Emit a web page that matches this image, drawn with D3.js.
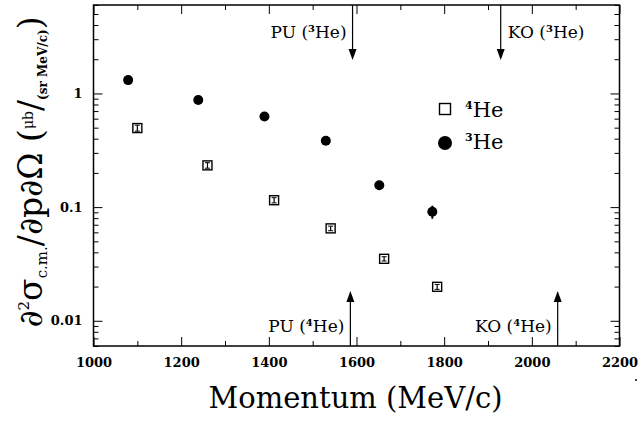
<!DOCTYPE html>
<html>
<head>
<meta charset="utf-8">
<script src="https://cdn.jsdelivr.net/npm/d3@7"></script>
<style>
  body { margin: 0; background: #fff; }
  text { font-family: "DejaVu Serif", "Liberation Serif", serif; fill: #000; }
  .tick text { font-weight: bold; font-size: 13px; }
  .tick line { stroke: #000; stroke-width: 1; }
</style>
</head>
<body>
<div id="chart"></div>
<script>
// 4He (open squares)
var momentum4 = [1100, 1260, 1412, 1541, 1663, 1784];
var xsec4 = [0.496, 0.233, 0.115, 0.065, 0.0351, 0.0199];
var err4 = [0.03, 0.013, 0.006, 0.003, 0.0015, 0.001];

// 3He (filled circles)
var momentum3 = [1079, 1239, 1390, 1530, 1652, 1773];
var xsec3 = [1.31, 0.875, 0.626, 0.384, 0.156, 0.091];
var err3 = [0.05, 0.03, 0.02, 0.015, 0.006, 0.012];

// kinematic markers
var markerName = ["PU", "KO", "PU", "KO"];
var markerIso = ["3", "3", "4", "4"];
var markerMomentum = [1591, 1929, 1586, 2059];
var markerSide = ["top", "top", "bottom", "bottom"];

var xTicks = [1000, 1200, 1400, 1600, 1800, 2000, 2200];
var xMinorTicks = [1100, 1300, 1500, 1700, 1900, 2100];
var yTicks = [0.01, 0.1, 1];
var yTickLabels = ["0.01", "0.1", "1"];

var W = 642, H = 421;
var frame = {left: 93.5, right: 619.5, top: 5, bottom: 346};

var svg = d3.select("#chart").append("svg")
  .attr("width", W).attr("height", H);

var x = d3.scaleLinear().domain([1000, 2200]).range([frame.left, frame.right]);
var y = d3.scaleLog().domain([0.006, 6]).range([frame.bottom, frame.top]);

var yMinor = [];
[0.001, 0.01, 0.1, 1].forEach(function (d) {
  for (var k = 2; k <= 9; k++) {
    var v = d * k;
    if (v >= 0.006 && v <= 6) yMinor.push(v);
  }
});

function fmtY(d) { return yTickLabels[yTicks.indexOf(d)]; }

// axes (ticks pointing inward on all four sides)
svg.append("g").attr("transform", "translate(0," + frame.bottom + ")")
  .call(d3.axisBottom(x).tickValues(xTicks).tickSize(-9).tickPadding(12).tickFormat(d3.format("d")));
svg.append("g").attr("transform", "translate(0," + frame.bottom + ")")
  .call(d3.axisBottom(x).tickValues(xMinorTicks).tickSize(-5).tickFormat(""));
svg.append("g").attr("transform", "translate(0," + frame.top + ")")
  .call(d3.axisTop(x).tickValues(xTicks).tickSize(-9).tickFormat(""));
svg.append("g").attr("transform", "translate(0," + frame.top + ")")
  .call(d3.axisTop(x).tickValues(xMinorTicks).tickSize(-5).tickFormat(""));

svg.append("g").attr("transform", "translate(" + frame.left + ",0)")
  .call(d3.axisLeft(y).tickValues(yTicks).tickSize(-9).tickPadding(11).tickFormat(fmtY));
svg.append("g").attr("transform", "translate(" + frame.left + ",0)")
  .call(d3.axisLeft(y).tickValues(yMinor).tickSize(-5).tickFormat(""));
svg.append("g").attr("transform", "translate(" + frame.right + ",0)")
  .call(d3.axisRight(y).tickValues(yTicks).tickSize(-9).tickFormat(""));
svg.append("g").attr("transform", "translate(" + frame.right + ",0)")
  .call(d3.axisRight(y).tickValues(yMinor).tickSize(-5).tickFormat(""));

svg.selectAll(".domain").remove();

svg.append("rect")
  .attr("x", frame.left).attr("y", frame.top)
  .attr("width", frame.right - frame.left).attr("height", frame.bottom - frame.top)
  .attr("fill", "none").attr("stroke", "#000").attr("stroke-width", 1.5);

// 4He squares with error bars
var sq = 9;
var g4 = svg.append("g").selectAll("g").data(momentum4).enter().append("g");
g4.append("rect")
  .attr("x", function (d) { return x(d) - sq / 2; })
  .attr("y", function (d, i) { return y(xsec4[i]) - sq / 2; })
  .attr("width", sq).attr("height", sq)
  .attr("fill", "#fff").attr("stroke", "#000").attr("stroke-width", 1.4);
g4.append("line")
  .attr("x1", function (d) { return x(d); }).attr("x2", function (d) { return x(d); })
  .attr("y1", function (d, i) { return y(xsec4[i] - err4[i]); })
  .attr("y2", function (d, i) { return y(xsec4[i] + err4[i]); })
  .attr("stroke", "#000").attr("stroke-width", 1.2);
[-1, 1].forEach(function (s) {
  g4.append("line")
    .attr("x1", function (d) { return x(d) - 2.5; }).attr("x2", function (d) { return x(d) + 2.5; })
    .attr("y1", function (d, i) { return y(xsec4[i] + s * err4[i]); })
    .attr("y2", function (d, i) { return y(xsec4[i] + s * err4[i]); })
    .attr("stroke", "#000").attr("stroke-width", 1);
});

// 3He circles with error bars
var g3 = svg.append("g").selectAll("g").data(momentum3).enter().append("g");
g3.append("line")
  .attr("x1", function (d) { return x(d); }).attr("x2", function (d) { return x(d); })
  .attr("y1", function (d, i) { return y(xsec3[i] - err3[i]); })
  .attr("y2", function (d, i) { return y(xsec3[i] + err3[i]); })
  .attr("stroke", "#000").attr("stroke-width", 2);
g3.append("circle")
  .attr("cx", function (d) { return x(d); })
  .attr("cy", function (d, i) { return y(xsec3[i]); })
  .attr("r", 5).attr("fill", "#000");

// arrows + labels
var arrowLen = 55, headH = 11, headW = 4;
markerMomentum.forEach(function (p, i) {
  var ax = x(p);
  var isTop = markerSide[i] === "top";
  var y0 = isTop ? frame.top : frame.bottom;
  var tip = isTop ? frame.top + arrowLen : frame.bottom - arrowLen;
  var dir = isTop ? 1 : -1;
  svg.append("line")
    .attr("x1", ax).attr("x2", ax).attr("y1", y0).attr("y2", tip - dir * 4)
    .attr("stroke", "#000").attr("stroke-width", 1.2);
  svg.append("path")
    .attr("d", "M" + ax + "," + tip + "L" + (ax - headW) + "," + (tip - dir * headH) +
      "L" + (ax + headW) + "," + (tip - dir * headH) + "Z")
    .attr("fill", "#000");
  var anchorEnd = !(isTop && markerName[i] === "KO");
  var t = svg.append("text")
    .attr("x", anchorEnd ? ax - 6 : ax + 7)
    .attr("y", isTop ? 38 : 332)
    .attr("text-anchor", anchorEnd ? "end" : "start")
    .style("font-size", "17px");
  t.append("tspan").text(markerName[i] + " (");
  t.append("tspan").attr("dy", -6).style("font-size", "10px").style("font-weight", "bold").text(markerIso[i]);
  t.append("tspan").attr("dy", 6).text("He)");
});

// legend
svg.append("rect").attr("x", 445 - 5.5).attr("y", 109 - 5.5).attr("width", 11).attr("height", 11)
  .attr("fill", "#fff").attr("stroke", "#000").attr("stroke-width", 1.4);
svg.append("circle").attr("cx", 445).attr("cy", 143).attr("r", 7).attr("fill", "#000");
[["4", 117], ["3", 149]].forEach(function (l) {
  var t = svg.append("text").attr("x", 465).attr("y", l[1]).style("font-size", "21px");
  t.append("tspan").attr("dy", -8).style("font-size", "11px").style("font-weight", "bold").text(l[0]);
  t.append("tspan").attr("dy", 8).text("He");
});

// axis titles
svg.append("text")
  .attr("x", (frame.left + frame.right) / 2 - 1).attr("y", 408)
  .attr("text-anchor", "middle")
  .style("font-size", "29px")
  .text("Momentum (MeV/c)");

var yl = svg.append("text")
  .attr("transform", "translate(42,172) rotate(-90)")
  .attr("text-anchor", "middle")
  .style("font-size", "33px");
yl.append("tspan").text("\u2202");
yl.append("tspan").attr("dy", -13).style("font-size", "15px").text("2");
yl.append("tspan").attr("dy", 13).text("\u03c3");
yl.append("tspan").attr("dy", 5).style("font-size", "15px").text("c.m.");
yl.append("tspan").attr("dy", -5).text("/\u2202p\u2202\u03a9 (");
yl.append("tspan").attr("dy", -9).style("font-size", "14px").text("\u03bcb");
yl.append("tspan").attr("dy", 9).text("/");
yl.append("tspan").attr("dy", 5).style("font-size", "12px").style("font-weight", "bold").text("(sr MeV/c)");
yl.append("tspan").attr("dy", -5).text(")");

// small speck near the bottom-right corner of the scan
svg.append("circle").attr("cx", 636).attr("cy", 380).attr("r", 1).attr("fill", "#000");
</script>
</body>
</html>
